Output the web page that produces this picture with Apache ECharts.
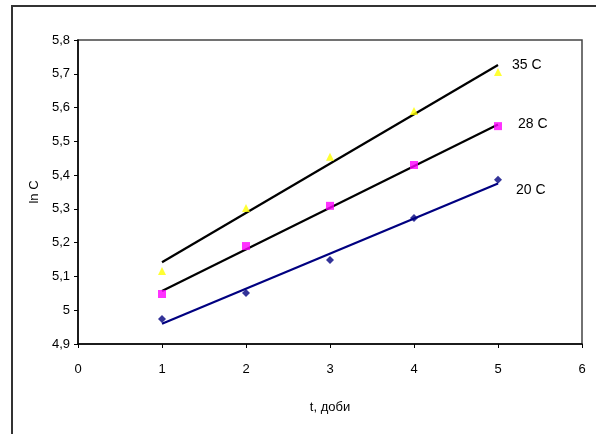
<!DOCTYPE html>
<html>
<head>
<meta charset="utf-8">
<script src="https://cdn.jsdelivr.net/npm/echarts@6/dist/echarts.min.js"></script>
<style>
html,body{margin:0;padding:0;background:#fff;}
#chart{width:596px;height:434px;}
</style>
</head>
<body>
<div id="chart"></div>
<script>
// Data
var days = [1, 2, 3, 4, 5];
var lnC35 = [5.116, 5.303, 5.454, 5.590, 5.705];
var lnC28 = [5.048, 5.190, 5.309, 5.430, 5.545];
var lnC20 = [4.974, 5.051, 5.149, 5.273, 5.386];
var trendDays = [1, 5];
var trend35 = [5.142, 5.726];
var trend28 = [5.057, 5.550];
var trend20 = [4.960, 5.375];
var seriesNames = ['35 C', '28 C', '20 C'];
var xTicks = [0, 1, 2, 3, 4, 5, 6];
var yTicks = [4.9, 5.0, 5.1, 5.2, 5.3, 5.4, 5.5, 5.6, 5.7, 5.8];

function pairs(xs, ys) { return xs.map(function (x, i) { return [x, ys[i]]; }); }
function fmt(v) { return String(Number(v.toFixed(1))).replace('.', ','); }

var font = 'Liberation Sans, Arial, sans-serif';
var chart = echarts.init(document.getElementById('chart'));

function trendSeries(name, ys, color, labelOffset) {
  return {
    type: 'line', name: name + ' trend', data: pairs(trendDays, ys), symbol: 'none',
    lineStyle: { color: color, width: 2.2 }, z: 3, silent: true,
    endLabel: {
      show: true, formatter: name, offset: labelOffset, distance: 0,
      fontFamily: font, fontSize: 14, color: '#000'
    }
  };
}
function pointSeries(name, ys, color, symbol, size) {
  return {
    type: 'scatter', name: name, data: pairs(days, ys), symbol: symbol,
    symbolSize: size, itemStyle: { color: color }, z: 4
  };
}

chart.setOption({
  animation: false,
  backgroundColor: '#fff',
  grid: {
    left: 78, top: 40, right: 14, bottom: 90,
    show: true, borderColor: '#444', borderWidth: 1.5, backgroundColor: 'transparent'
  },
  graphic: [{
    type: 'rect', shape: { x: 12, y: 6, width: 600, height: 440 },
    style: { fill: 'none', stroke: '#333', lineWidth: 2 }, silent: true, z: -1
  }],
  xAxis: {
    type: 'value', min: xTicks[0], max: xTicks[xTicks.length - 1], interval: 1,
    name: 't, доби', nameLocation: 'middle', nameGap: 57,
    nameTextStyle: { fontFamily: font, fontSize: 13, color: '#000' },
    axisLine: { lineStyle: { color: '#000', width: 1.5 } },
    axisTick: { show: true, length: 4, inside: false, lineStyle: { color: '#000' } },
    axisLabel: { fontFamily: font, fontSize: 13, color: '#000', margin: 19, formatter: fmt },
    splitLine: { show: false }
  },
  yAxis: {
    type: 'value', min: yTicks[0], max: yTicks[yTicks.length - 1], interval: 0.1,
    name: 'ln C', nameLocation: 'middle', nameGap: 37, nameRotate: 90,
    nameTextStyle: { fontFamily: font, fontSize: 13, color: '#000' },
    axisLine: { show: true, lineStyle: { color: '#000', width: 1.5 } },
    axisTick: { show: true, length: 4, inside: false, lineStyle: { color: '#000' } },
    axisLabel: { fontFamily: font, fontSize: 13, color: '#000', margin: 8, formatter: fmt },
    splitLine: { show: false }
  },
  series: [
    trendSeries(seriesNames[0], trend35, '#000', [14, 0]),
    trendSeries(seriesNames[1], trend28, '#000', [20, 0]),
    trendSeries(seriesNames[2], trend20, '#000080', [18, 7]),
    pointSeries(seriesNames[0], lnC35, '#FFFF00', 'triangle', 8),
    pointSeries(seriesNames[1], lnC28, '#FF00FF', 'rect', 8),
    pointSeries(seriesNames[2], lnC20, '#000080', 'diamond', 8)
  ]
});
</script>
</body>
</html>
